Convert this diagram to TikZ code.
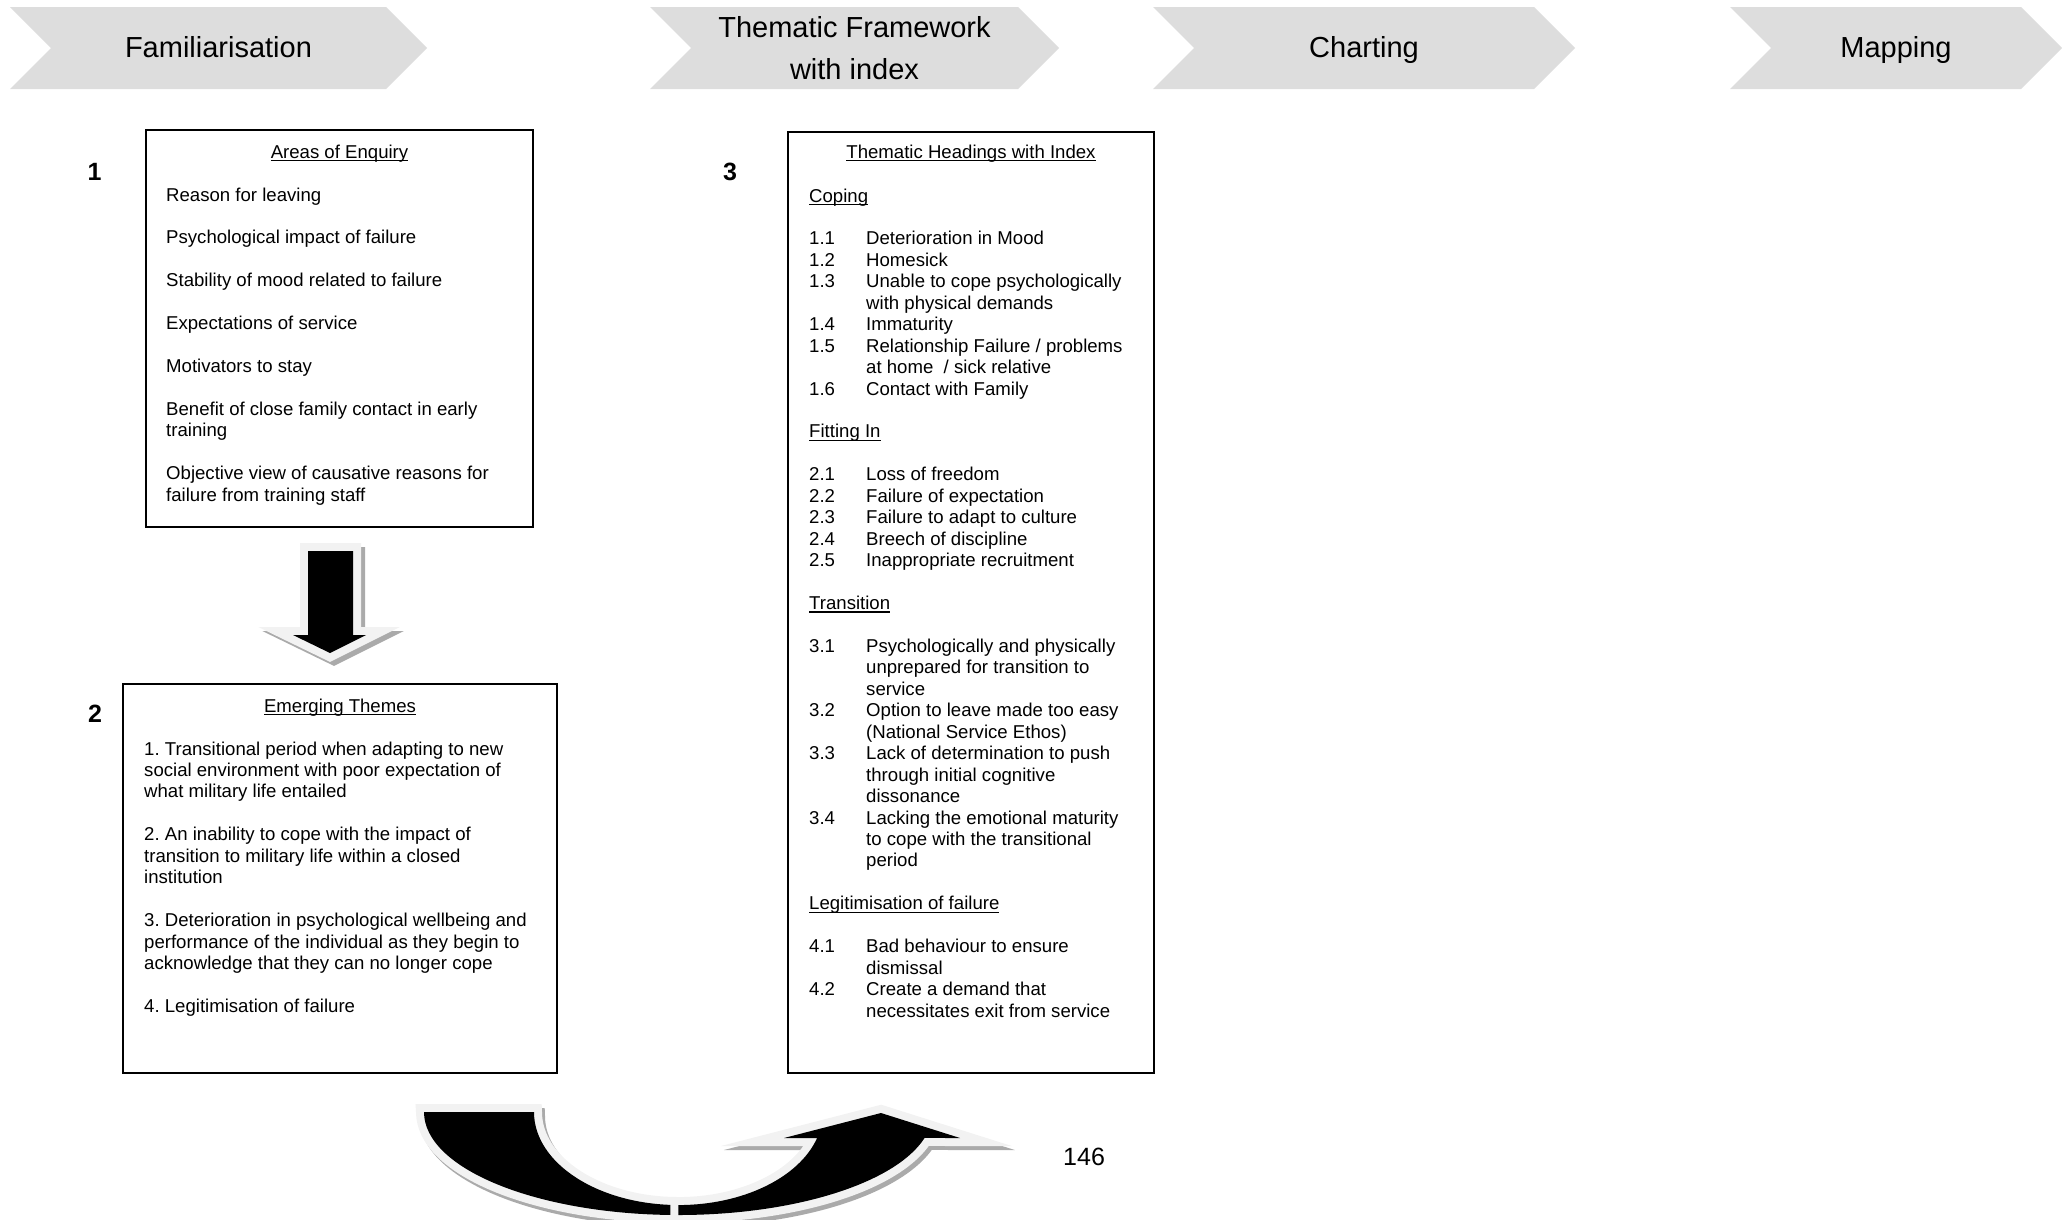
\documentclass[tikz,border=0pt]{standalone}
\usepackage{fontspec}
\setmainfont{Liberation Sans}
\frenchspacing
% underline set at a fixed depth, as a word processor draws it
\newcommand\undl[1]{\setbox0=\hbox{#1}\rlap{\rule[-3.2pt]{\wd0}{1.4pt}}\box0}
\definecolor{chev}{RGB}{221,221,221}
\definecolor{rim}{RGB}{242,242,242}
\definecolor{shade}{RGB}{170,170,170}
\tikzset{
  chevron/.style={fill=chev},
  phase/.style={font=\fontsize{29}{42}\selectfont, inner sep=0, anchor=base},
  frame/.style={draw=black, line width=2pt, inner sep=0},
  boxtitle/.style={font=\fontsize{18.6}{21.45}\selectfont, inner sep=0, anchor=base},
  boxbody/.style={font=\fontsize{18.6}{21.45}\selectfont, inner sep=0, anchor=base west},
  stepnum/.style={font=\fontsize{25}{30}\selectfont\bfseries, inner sep=0, anchor=base},
  pagenum/.style={font=\fontsize{25}{30}\selectfont, inner sep=0, anchor=base west},
  rimline/.style={draw=rim, line width=16pt, line join=miter},
  shadowline/.style={draw=shade, fill=shade, line width=16pt, line join=miter},
  % block arrow pointing down
  downblock/.style={insert path={(308,551) -- (353,551) -- (353,635) -- (366,635)
      -- (330,653) -- (293,635) -- (308,635) -- cycle}},
  % U-turn arrow: descending half and rising half with its head
  turnleft/.style={insert path={(424,1112) arc[start angle=180, end angle=270, x radius=254.4pt, y radius=103pt]
      -- (678.4,1205) arc[start angle=270, end angle=180, x radius=144.4pt, y radius=93pt] -- cycle}},
  turnright/.style={insert path={(678.4,1215) arc[start angle=270, end angle=345.4, x radius=254.4pt, y radius=103pt]
      -- (960,1138) -- (881,1113) -- (784,1138) -- (817.1,1138)
      arc[start angle=343.8, end angle=270, x radius=144.4pt, y radius=93pt] -- cycle}},
}
\begin{document}
\begin{tikzpicture}[x=1pt, y=-1pt]
\useasboundingbox (0,0) rectangle (2062,1219);

% phase chevrons
\fill[chevron] (10,7) -- (386,7) -- (427,48) -- (386,89) -- (10,89) -- (51,48) -- cycle;
\fill[chevron] (650,7) -- (1018,7) -- (1059,48) -- (1018,89) -- (650,89) -- (691,48) -- cycle;
\fill[chevron] (1153,7) -- (1534,7) -- (1575,48) -- (1534,89) -- (1153,89) -- (1194,48) -- cycle;
\fill[chevron] (1730,7) -- (2021,7) -- (2062,48) -- (2021,89) -- (1730,89) -- (1771,48) -- cycle;
\node[phase] (famil) at (218.5,57) {Familiarisation};
\node[phase] (thematic) at (854.5,37.5) {\begin{tabular}[t]{@{}c@{}}Thematic Framework\\with index\end{tabular}};
\node[phase] (charting) at (1364,57) {Charting};
\node[phase] (mapping) at (1896,57) {Mapping};

% step numbers
\node[stepnum] (n1) at (94.5,180) {1};
\node[stepnum] (n2) at (95,722) {2};
\node[stepnum] (n3) at (730,180) {3};

% box 1: areas of enquiry
\node[frame, minimum width=387, minimum height=397] (areas) at (339.5,328.5) {};
\node[boxtitle] (areastitle) at (339.5,158) {\undl{Areas of Enquiry}};
\node[boxbody] (areasbody) at (166,201) {\begin{tabular}[t]{@{}l@{}}
Reason for leaving\\ \\
Psychological impact of failure\\ \\
Stability of mood related to failure\\ \\
Expectations of service\\ \\
Motivators to stay\\ \\
Benefit of close family contact in early\\
training\\ \\
Objective view of causative reasons for\\
failure from training staff
\end{tabular}};

% box 2: emerging themes
\node[frame, minimum width=434, minimum height=389] (themes) at (340,878.5) {};
\node[boxtitle] (themestitle) at (340,712) {\undl{Emerging Themes}};
\node[boxbody] (themesbody) at (144,755) {\begin{tabular}[t]{@{}l@{}}
1. Transitional period when adapting to new\\
social environment with poor expectation of\\
what military life entailed\\ \\
2. An inability to cope with the impact of\\
transition to military life within a closed\\
institution\\ \\
3. Deterioration in psychological wellbeing and\\
performance of the individual as they begin to\\
acknowledge that they can no longer cope\\ \\
4. Legitimisation of failure
\end{tabular}};

% box 3: thematic headings with index
\node[frame, minimum width=366, minimum height=941] (headings) at (971,602.5) {};
\node[boxtitle] (headingstitle) at (971,158) {\undl{Thematic Headings with Index}};
\node[boxbody] (headingsbody) at (809,202) {\begin{tabular}[t]{@{}p{57pt}@{}l@{}}
\multicolumn{2}{@{}l@{}}{\undl{Coping}}\\ \\
1.1 & Deterioration in Mood\\
1.2 & Homesick\\
1.3 & Unable to cope psychologically\\
    & with physical demands\\
1.4 & Immaturity\\
1.5 & Relationship Failure / problems\\
    & at home\ \ / sick relative\\
1.6 & Contact with Family\\ \\
\multicolumn{2}{@{}l@{}}{\undl{Fitting In}}\\ \\
2.1 & Loss of freedom\\
2.2 & Failure of expectation\\
2.3 & Failure to adapt to culture\\
2.4 & Breech of discipline\\
2.5 & Inappropriate recruitment\\ \\
\multicolumn{2}{@{}l@{}}{\undl{Transition}}\\ \\
3.1 & Psychologically and physically\\
    & unprepared for transition to\\
    & service\\
3.2 & Option to leave made too easy\\
    & (National Service Ethos)\\
3.3 & Lack of determination to push\\
    & through initial cognitive\\
    & dissonance\\
3.4 & Lacking the emotional maturity\\
    & to cope with the transitional\\
    & period\\ \\
\multicolumn{2}{@{}l@{}}{\undl{Legitimisation of failure}}\\ \\
4.1 & Bad behaviour to ensure\\
    & dismissal\\
4.2 & Create a demand that\\
    & necessitates exit from service
\end{tabular}};

% down block arrow between box 1 and box 2
\begin{scope}[shift={(4,4)}]
  \path[shadowline, downblock];
\end{scope}
\path[rimline, downblock];
\fill[black, downblock];

% U-turn block arrow under the boxes
\begin{scope}[shift={(3,4)}]
  \path[shadowline, turnleft];
  \path[shadowline, turnright];
\end{scope}
\path[rimline, turnleft];
\fill[black, turnleft];
\path[rimline, turnright];
\fill[black, turnright];

\node[pagenum] (page) at (1063,1165) {146};
\end{tikzpicture}
\end{document}
